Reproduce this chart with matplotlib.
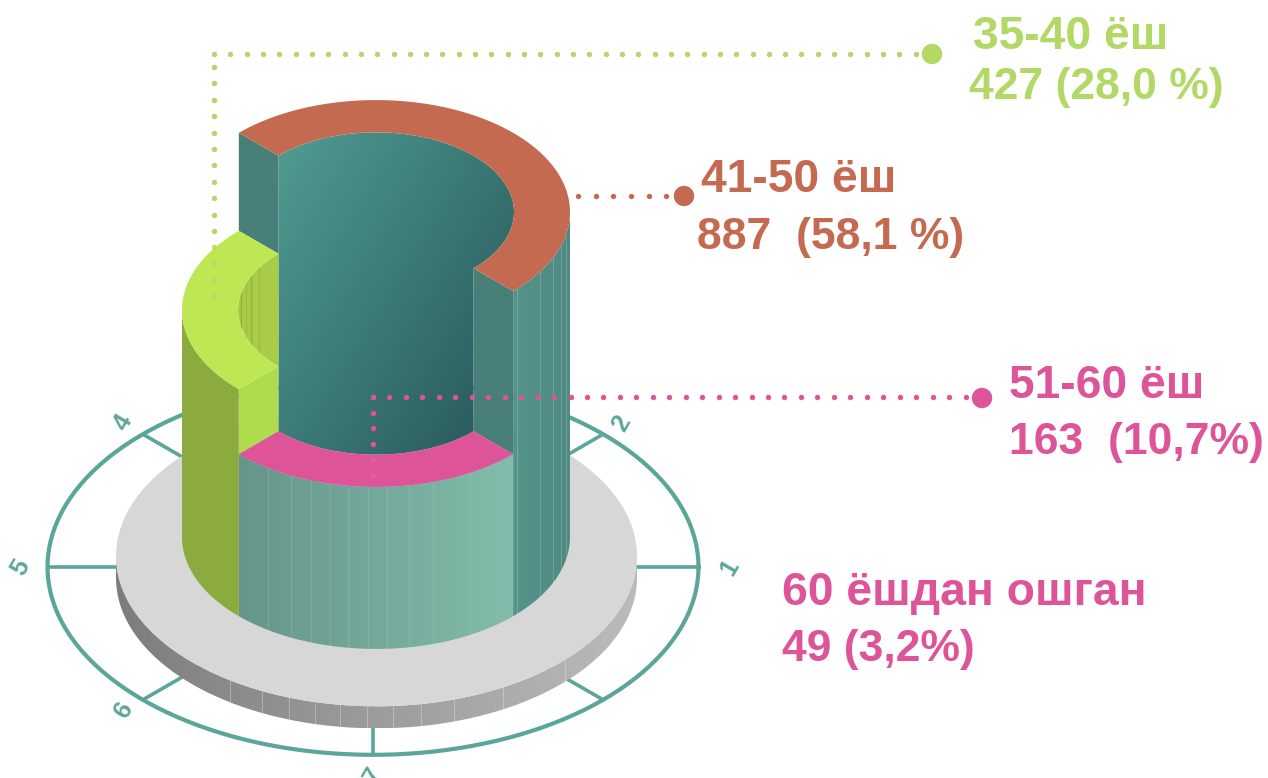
import matplotlib
matplotlib.use('Agg')
import matplotlib.pyplot as plt
import matplotlib.colors as mcolors
from matplotlib.patches import PathPatch, Polygon
from matplotlib.path import Path
import numpy as np

plt.rcParams['font.family'] = ['Liberation Sans', 'DejaVu Sans']

# data
age_groups = ['35-40 ёш', '41-50 ёш', '51-60 ёш', '60 ёшдан ошган']
count_labels = ['427 (28,0 %)', '887  (58,1 %)', '163  (10,7%)', '49 (3,2%)']
label_colors = ['#B2D865', '#C46A50', '#DE5499', '#DE5499']

# wedge = (start angle, end angle, height of top face above the disc)
orange_wedge = (-45, 135, 325)
green_wedge = (135, 225, 227)
pink_wedge = (225, 315, 162)

ring_numbers = ['1', '2', '4', '5', '6', '7']
ring_number_angles = [0, 45, 135, 180, 225, 270]
ring_number_gaps = [31, 26, 28, 27, 27, 36]
spoke_angles = [0, 45, 135, 180, 225, 270, 315]

front_slats = [268, 291, 311, 330, 348, 368, 387, 409, 433, 470]
right_slats = [517, 540, 553, 561, 566]
disc_slats = [230, 262, 289, 315, 340, 367, 393, 421, 454, 503, 565]

TILT = 0.577
CX, BASE_Y = 376, 537
R_OUT, R_IN = 194, 138
TEAL = '#5BA69A'


def iso(r, ang, cy, cx=CX):
    a = np.radians(ang)
    return cx + r * np.cos(a), cy - r * TILT * np.sin(a)


def arc(r, a0, a1, cy, cx=CX):
    x, y = iso(r, np.linspace(a0, a1, 160), cy, cx)
    return np.column_stack([x, y])


def gradient(ax, pts, c0, c1, angle=0, z=2, box=None):
    """fill a polygon with a linear gradient, box sets where the colours run"""
    path = Path(np.vstack([pts, pts[0]]))
    x0, y0 = pts.min(axis=0)
    x1, y1 = pts.max(axis=0)
    bx0, by0, bx1, by1 = box if box is not None else (x0, y0, x1, y1)
    xx, yy = np.meshgrid(np.linspace(x0, x1, 400), np.linspace(y0, y1, 400))
    u = (xx - bx0) / (bx1 - bx0)
    v = (yy - by0) / (by1 - by0)
    ca, sa = np.cos(np.radians(angle)), np.sin(np.radians(angle))
    t = np.clip((u * ca + v * sa) / (ca + sa), 0, 1)
    a, b = np.array(mcolors.to_rgb(c0)), np.array(mcolors.to_rgb(c1))
    img = a + (b - a) * t[..., None]
    im = ax.imshow(img, extent=(x0, x1, y1, y0), aspect='auto', zorder=z, interpolation='bilinear')
    patch = PathPatch(path, transform=ax.transData, fc='none', ec='none')
    ax.add_patch(patch)
    im.set_clip_path(patch)


def dots(ax, x0, y0, x1, y1, color, z=12, alpha=1):
    n = int(round(np.hypot(x1 - x0, y1 - y0) / 16.4))
    ax.scatter(np.linspace(x0, x1, n + 1), np.linspace(y0, y1, n + 1), s=15, color=color,
               linewidths=0, zorder=z, alpha=alpha)


fig = plt.figure(figsize=(12.68, 7.78), dpi=100)
ax = fig.add_axes([0, 0, 1, 1])

# outer ring with spokes
RING_CX, RING_CY, RING_R = 373, 567, 325.5
ring = arc(RING_R, 0, 360, RING_CY, RING_CX)
ax.plot(ring[:, 0], ring[:, 1], color=TEAL, lw=3.0, zorder=1)
for a in spoke_angles:
    x1, y1 = iso(RING_R, a, RING_CY, RING_CX)
    x0, y0 = iso(200, a, RING_CY, RING_CX)
    ax.plot([x0, x1], [y0, y1], color=TEAL, lw=2.6, zorder=1, solid_capstyle='butt')
for num, a, gap in zip(ring_numbers, ring_number_angles, ring_number_gaps):
    x, y = iso(RING_R + gap, a, RING_CY, RING_CX)
    ax.text(x, y, num, color=TEAL, fontsize=18, fontweight='bold', rotation=60,
            ha='center', va='center', zorder=1, rotation_mode='anchor', clip_on=False)

# base disc
DISC_CX, DISC_CY, DISC_R, DISC_H = 376.5, 556, 260.5, 22
side = np.vstack([arc(DISC_R, 180, 360, DISC_CY, DISC_CX),
                  arc(DISC_R, 360, 180, DISC_CY + DISC_H, DISC_CX)])
gradient(ax, side, '#7D7D7D', '#BBBBBB', 0, z=2)
for x in disc_slats:
    c = (x - DISC_CX) / DISC_R
    yb = DISC_CY + DISC_R * TILT * np.sqrt(1 - c ** 2)
    ax.plot([x, x], [yb, yb + DISC_H], color='white', lw=0.6, alpha=0.35, zorder=3)
ax.add_patch(Polygon(arc(DISC_R, 0, 360, DISC_CY, DISC_CX), fc='#D7D7D7', ec='none', zorder=3))

orange_top = BASE_Y - orange_wedge[2]
green_top = BASE_Y - green_wedge[2]
pink_top = BASE_Y - pink_wedge[2]

# outer walls
front = np.vstack([arc(R_OUT, pink_wedge[0], pink_wedge[1], pink_top),
                   arc(R_OUT, pink_wedge[1], pink_wedge[0], BASE_Y)])
gradient(ax, front, '#66958A', '#82BDAB', 0, z=4)
for x in front_slats:
    c = (x - CX) / R_OUT
    ext = R_OUT * TILT * np.sqrt(1 - c ** 2)
    ax.plot([x, x], [pink_top + ext, BASE_Y + ext], color='white', lw=0.6, alpha=0.15, zorder=5)

right = np.vstack([arc(R_OUT, orange_wedge[0], 0, orange_top),
                   arc(R_OUT, 0, orange_wedge[0], BASE_Y)])
gradient(ax, right, '#56948B', '#4E8A82', 0, z=4)
for x in right_slats:
    c = (x - CX) / R_OUT
    ext = R_OUT * TILT * np.sqrt(1 - c ** 2)
    ax.plot([x, x], [orange_top + ext, BASE_Y + ext], color='white', lw=0.7, alpha=0.18, zorder=5)

left = np.vstack([arc(R_OUT, 180, green_wedge[1], green_top),
                  arc(R_OUT, green_wedge[1], 180, BASE_Y)])
ax.add_patch(Polygon(left, fc='#8CAB3F', ec='none', zorder=4))

# inner wall: arc of the orange hole on top, straight sides, arc of the pink ring below
ox0, oy0 = iso(R_IN, orange_wedge[1], orange_top)
ox1, oy1 = iso(R_IN, orange_wedge[0], orange_top)
px0, py0 = iso(R_IN, pink_wedge[0], pink_top)
px1, py1 = iso(R_IN, pink_wedge[1], pink_top)
inner = np.vstack([arc(R_IN, orange_wedge[1], orange_wedge[0], orange_top),
                   arc(R_IN, pink_wedge[1], pink_wedge[0], pink_top)])
gradient(ax, inner, '#4F9A90', '#2B5D5E', 42, z=4, box=(278, 155, 474, 440))

# cut faces
gx0, gy0 = iso(R_IN, green_wedge[0], green_top)
gx1, gy1 = iso(R_IN, green_wedge[1], green_top)
ex0, ey0 = iso(R_OUT, orange_wedge[1], orange_top)
ex1, ey1 = iso(R_OUT, orange_wedge[0], orange_top)
ax.add_patch(Polygon([(ex0, ey0), (ox0, oy0), (gx0, gy0), iso(R_OUT, green_wedge[0], green_top)],
                     fc='#487F79', ec='none', zorder=5))
ax.add_patch(Polygon([(ox1, oy1), (ex1, ey1), iso(R_OUT, pink_wedge[1], pink_top), (px1, py1)],
                     fc='#487F79', ec='none', zorder=5))
ax.add_patch(Polygon([iso(R_OUT, green_wedge[1], green_top), (gx1, gy1), (px0, py0),
                      iso(R_OUT, pink_wedge[0], pink_top)], fc='#AFDB4E', ec='none', zorder=5))

# green recess
recess = arc(R_IN, green_wedge[0], green_wedge[1], green_top)
ax.add_patch(Polygon(recess, fc='#A8CC47', ec='none', zorder=5))
for x, c in zip([241, 246, 251, 259], ['#8FB03C', '#9CBE42', '#93B43E', '#9CBE42']):
    h = R_IN * TILT * np.sqrt(max(1 - ((x - CX) / R_IN) ** 2, 0))
    ax.plot([x, x], [green_top - h, green_top + h], color=c, lw=1.0, zorder=6)

# top faces
for wedge, col in [(orange_wedge, '#C46A50'), (green_wedge, '#BDE854'), (pink_wedge, '#DE5499')]:
    cy = BASE_Y - wedge[2]
    ax.add_patch(Polygon(np.vstack([arc(R_OUT, wedge[0], wedge[1], cy), arc(R_IN, wedge[1], wedge[0], cy)]),
                         fc=col, ec='none', zorder=7))

# leader lines
dots(ax, 932, 54, 214, 54, label_colors[0])
dots(ax, 214, 67, 214, 231, label_colors[0])
dots(ax, 214, 247, 214, 296, '#BFD46F', alpha=0.9)
dots(ax, 684, 196, 578, 196, label_colors[1])
dots(ax, 982, 397, 373, 397, label_colors[2])
dots(ax, 373, 397, 373, 444, label_colors[2])
dots(ax, 373, 460, 373, 476, '#E160A3')
big_x = [932, 684, 982]
big_y = [54, 196, 398]
ax.scatter(big_x, big_y, s=215, c=label_colors[:3], linewidths=0, zorder=12)

# labels
age_style = dict(fontsize=33.3, fontweight='bold', va='baseline', ha='left', zorder=13)
count_style = dict(fontsize=32, fontweight='bold', va='baseline', ha='left', zorder=13)
ax.text(973, 49, age_groups[0], color=label_colors[0], **age_style)
ax.text(969, 99, count_labels[0], color=label_colors[0], **count_style)
ax.text(701, 192, age_groups[1], color=label_colors[1], **age_style)
ax.text(697, 249, count_labels[1], color=label_colors[1], **count_style)
ax.text(1009, 398, age_groups[2], color=label_colors[2], **age_style)
ax.text(1009, 454, count_labels[2], color=label_colors[2], **count_style)
ax.text(782, 605, age_groups[3], color=label_colors[3], **age_style)
ax.text(782, 661, count_labels[3], color=label_colors[3], **count_style)

ax.set_xlim(0, 1268)
ax.set_ylim(778, 0)
ax.axis('off')
fig.savefig('out.png', dpi=100)
